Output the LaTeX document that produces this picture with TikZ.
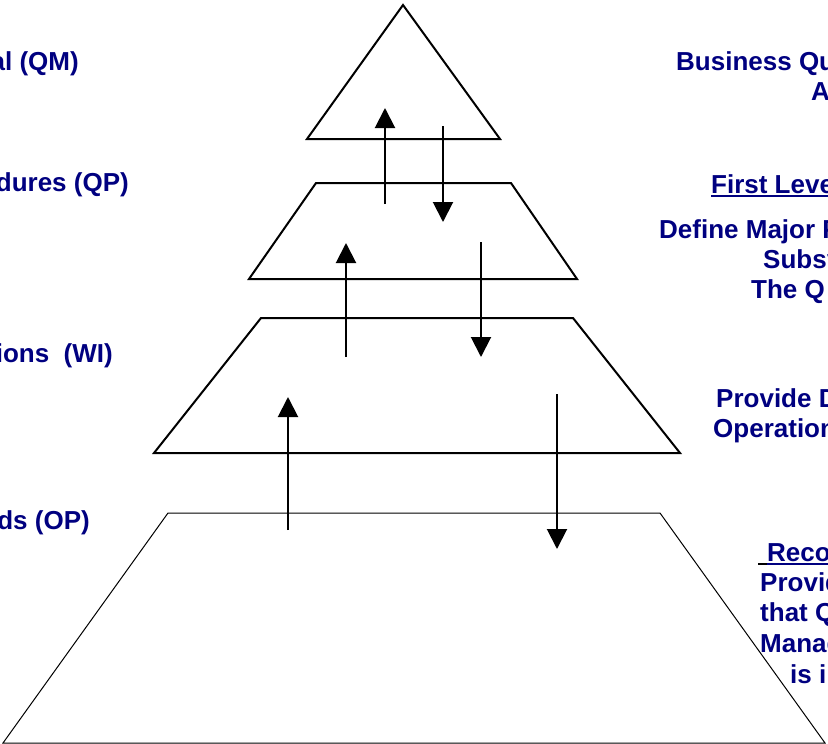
\documentclass[tikz,border=0pt]{standalone}
\usepackage{fontspec}
\setmainfont{Liberation Sans}
\usetikzlibrary{arrows.meta}
\definecolor{qnavy}{RGB}{0,0,128}

\begin{document}
\begin{tikzpicture}[x=1pt, y=-1pt,
    lvl/.style={draw=black, line width=2pt, line join=miter},
    flow/.style={line width=2pt, -{Triangle[width=20pt, length=20pt]}},
    lbl/.style={inner sep=0pt, text=qnavy, font=\fontsize{26}{30}\selectfont\bfseries},
    uline/.style={draw=qnavy, line width=2pt}]
    \useasboundingbox (0,0) rectangle (828,744);
    \clip (0,0) rectangle (828,744);

    \draw[lvl] (403,5) -- (500,139) -- (307,139) -- cycle;
    \draw[lvl] (316,183) -- (511,183) -- (577,279) -- (249,279) -- cycle;
    \draw[lvl] (261,318) -- (573,318) -- (680,453) -- (154,453) -- cycle;
    \draw[lvl, line width=1pt] (168,513) -- (660,513) -- (825,743) -- (3,743) -- cycle;

    \foreach \n/\x/\ya/\yb in {U1/385/204/108, D1/443/126/222, U2/346/357/243,
        D2/481/242/357, U3/288/530/397, D3/557/394/549} {
        \coordinate (\n a) at (\x,\ya);
        \coordinate (\n b) at (\x,\yb);
        \draw[flow] (\n a) -- (\n b);
    }

    \node[lbl, anchor=base east] (QM) at (79,70) {al (QM)};
    \node[lbl, anchor=base east] (QP) at (129,191) {dures (QP)};
    \node[lbl, anchor=base east] (WI) at (113,362) {ions\ \ (WI)};
    \node[lbl, anchor=base east] (OP) at (90,529) {ds (OP)};

    \node[lbl, anchor=base west] (R1a) at (676,70) {Business Qu};
    \node[lbl, anchor=base west] (R1b) at (811,100) {A};
    \node[lbl, anchor=base west] (R2a) at (711,193) {First Level};
    \draw[uline] ([yshift=-3pt]R2a.base west) -- ([yshift=-3pt]R2a.base east);
    \node[lbl, anchor=base west] (R2b) at (659,238) {Define Major P};
    \node[lbl, anchor=base west] (R2c) at (763,268) {Subsys};
    \node[lbl, anchor=base west] (R2d) at (751,298) {The Q};
    \node[lbl, anchor=base west] (R3a) at (716,407) {Provide D};
    \node[lbl, anchor=base west] (R3b) at (713,437) {Operation};
    \node[lbl, anchor=base west] (R4a) at (767,561) {Reco};
    \draw[line width=2pt] ([xshift=-9pt, yshift=-3pt]R4a.base west) -- ([yshift=-3pt]R4a.base west);
    \draw[uline] ([yshift=-3pt]R4a.base west) -- ([yshift=-3pt]R4a.base east);
    \node[lbl, anchor=base west] (R4b) at (760,591) {Provid};
    \node[lbl, anchor=base west] (R4c) at (760,621) {that Q};
    \node[lbl, anchor=base west] (R4d) at (760,652) {Manag};
    \node[lbl, anchor=base west] (R4e) at (790,683) {is in};
\end{tikzpicture}
\end{document}
